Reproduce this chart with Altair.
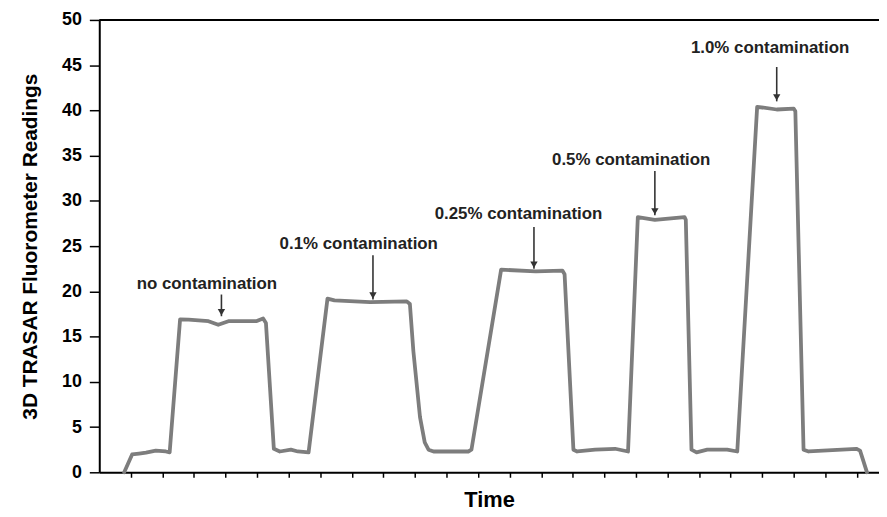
import altair as alt
import pandas as pd

# ---- trace data ----
time = [0.79, 1.04, 1.26, 1.48, 1.79, 2.11, 2.23,
        2.56, 2.83, 3.46, 3.77, 4.09, 4.97, 5.19, 5.28,
        5.53, 5.72, 6.07, 6.29, 6.63,
        7.23, 7.45, 8.58, 9.74, 9.84, 9.95, 10.16, 10.31, 10.43, 10.59, 11.69, 11.79,
        12.73, 13.83, 14.67, 14.74, 15.02, 15.14, 15.71, 16.34, 16.75,
        17.06, 17.60, 18.54, 18.58, 18.76, 18.92, 19.26, 19.89, 20.21,
        20.84, 21.46, 22.00, 22.05, 22.31, 22.47, 23.98, 24.10, 24.32]
reading = [0.0, 1.97, 2.07, 2.18, 2.4, 2.3, 2.2,
           16.9, 16.87, 16.7, 16.3, 16.7, 16.7, 17.0, 16.5,
           2.6, 2.3, 2.5, 2.3, 2.2,
           19.2, 19.0, 18.8, 18.9, 18.6, 13.4, 6.1, 3.3, 2.5, 2.3, 2.3, 2.5,
           22.4, 22.2, 22.3, 21.9, 2.5, 2.3, 2.5, 2.6, 2.3,
           28.2, 27.9, 28.2, 27.9, 2.5, 2.2, 2.5, 2.5, 2.3,
           40.4, 40.1, 40.2, 39.9, 2.5, 2.3, 2.6, 2.4, 0.0]

# ---- annotations ----
labels = ["no contamination", "0.1% contamination", "0.25% contamination",
          "0.5% contamination", "1.0% contamination"]
label_x = [3.41, 8.22, 13.28, 16.85, 21.25]
label_y = [20.85, 25.2, 28.5, 34.5, 46.9]
arrow_x = [3.87, 8.67, 13.77, 17.6, 21.46]
arrow_top = [19.65, 24.0, 27.1, 33.3, 44.8]
arrow_tip = [17.25, 19.1, 22.5, 28.4, 41.0]

x_ticks = list(range(1, 25))
y_ticks = list(range(0, 51, 5))

trace = pd.DataFrame({"time": time, "reading": reading})
ann = pd.DataFrame({"label": labels, "lx": label_x, "ly": label_y,
                    "ax": arrow_x, "atop": arrow_top, "atip": arrow_tip})

FONT = "Liberation Sans"
x_scale = alt.Scale(domain=[0, 24.7], nice=False, zero=False)
y_scale = alt.Scale(domain=[0, 50], nice=False)

x_axis = alt.Axis(
    values=x_ticks, labels=False, ticks=True, tickSize=5, tickWidth=1.5,
    tickColor="black", grid=False, domainColor="black", domainWidth=2,
    titleFont=FONT, titleFontSize=22, titleFontWeight="bold",
    titleColor="black", titlePadding=12)
y_axis = alt.Axis(
    values=y_ticks, tickSize=10, tickWidth=1.5, tickColor="black", grid=False,
    domainColor="black", domainWidth=2, labelFont=FONT, labelFontSize=18,
    labelFontWeight="bold", labelColor="black", labelPadding=8,
    titleFont=FONT, titleFontSize=21, titleFontWeight="bold",
    titleColor="black", titlePadding=21)
X_TITLE = "Time"
Y_TITLE = "3D TRASAR Fluorometer Readings"

line = alt.Chart(trace).mark_line(
    color="#7d7d7d", strokeWidth=3.8, strokeJoin="round", strokeCap="round"
).encode(
    x=alt.X("time:Q", scale=x_scale, axis=x_axis, title=X_TITLE),
    y=alt.Y("reading:Q", scale=y_scale, axis=y_axis, title=Y_TITLE),
)

shafts = alt.Chart(ann).mark_rule(color="#333333", strokeWidth=1.6).encode(
    x=alt.X("ax:Q", scale=x_scale, axis=x_axis, title=X_TITLE),
    y=alt.Y("atop:Q", scale=y_scale, axis=y_axis, title=Y_TITLE),
    y2="atip:Q",
)

heads = alt.Chart(ann).mark_point(
    shape="triangle-down", filled=True, color="#333333", size=55, opacity=1, yOffset=-4
).encode(
    x=alt.X("ax:Q", scale=x_scale, axis=x_axis, title=X_TITLE),
    y=alt.Y("atip:Q", scale=y_scale, axis=y_axis, title=Y_TITLE),
)

texts = alt.Chart(ann).mark_text(
    font=FONT, fontSize=17, fontWeight="bold", color="#222222",
    align="center", baseline="middle"
).encode(
    x=alt.X("lx:Q", scale=x_scale, axis=x_axis, title=X_TITLE),
    y=alt.Y("ly:Q", scale=y_scale, axis=y_axis, title=Y_TITLE),
    text="label:N",
)

top_frame = alt.Chart(pd.DataFrame({"a": [0]})).mark_rule(
    color="black", strokeWidth=2
).encode(x=alt.value(0), x2=alt.value(786), y=alt.value(0))

chart = alt.layer(line, shafts, heads, texts, top_frame).properties(
    width=786, height=456, autosize="none",
    padding={"left": 92, "top": 10, "right": 0, "bottom": 40},
).configure_view(stroke=None).configure(background="white")

chart.save("out.html", embed_options={"renderer": "svg", "actions": False})
